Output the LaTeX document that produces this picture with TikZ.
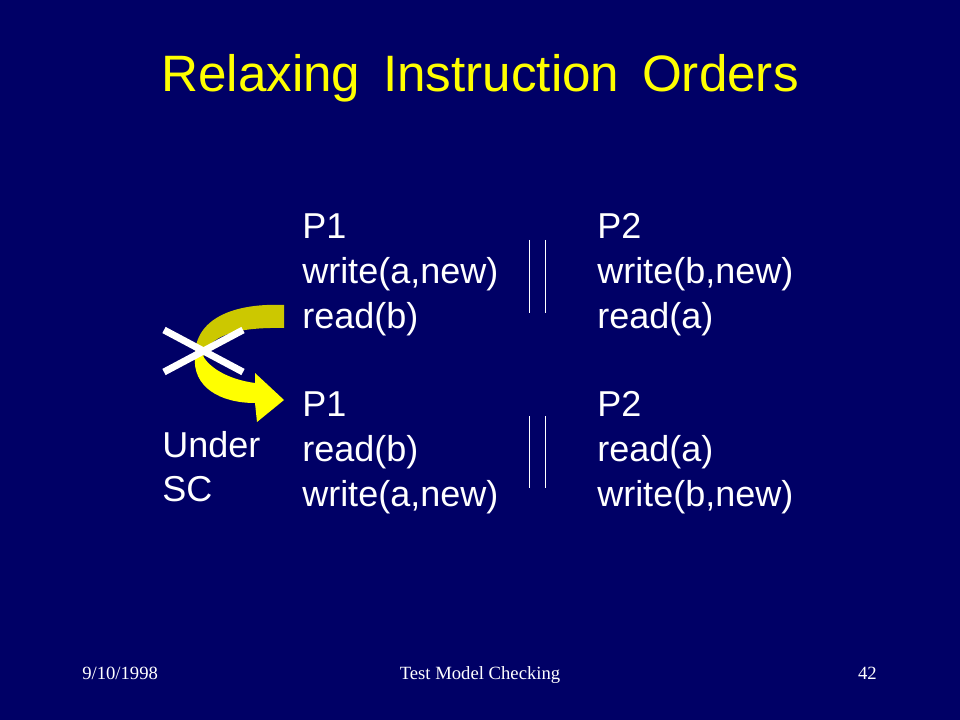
\documentclass[tikz,border=0pt]{standalone}
\usepackage{fontspec}
\setmainfont{Liberation Sans}
\newfontfamily\footfont{Liberation Serif}
\definecolor{slidebg}{RGB}{0,0,102}
\definecolor{olivearrow}{RGB}{204,200,0}
\definecolor{brightyellow}{RGB}{255,255,0}
\tikzset{
  bodytext/.style={text=white, inner sep=0pt, anchor=base west, font=\fontsize{27}{27}\selectfont},
  titletext/.style={text=brightyellow, inner sep=0pt, anchor=base, font=\fontsize{38.4}{40}\selectfont},
  foottext/.style={text=white, inner sep=0pt, font=\footfont\fontsize{14}{14}\selectfont},
  sepline/.style={draw=white, line width=1.1pt},
  crossline/.style={draw=white, line width=5.25pt},
}
\begin{document}
\begin{tikzpicture}[x=0.75pt,y=-0.75pt]
\fill[slidebg] (0,0) rectangle (960,720);
\useasboundingbox (0,0) rectangle (960,720);

% title
\node[titletext] (title) at (480,92) {Relaxing\, Instruction\, Orders};

% upper block
\node[bodytext] (p1a) at (302,239) {P1};
\node[bodytext] (w1a) at (302,284) {write(a,new)};
\node[bodytext] (r1a) at (302,329) {read(b)};
\node[bodytext] (p2a) at (597,239) {P2};
\node[bodytext] (w2a) at (597,284) {write(b,new)};
\node[bodytext] (r2a) at (597,329) {read(a)};

% lower block
\node[bodytext] (p1b) at (302,416) {P1};
\node[bodytext] (r1b) at (302,461) {read(b)};
\node[bodytext] (w1b) at (302,506) {write(a,new)};
\node[bodytext] (p2b) at (597,416) {P2};
\node[bodytext] (r2b) at (597,461) {read(a)};
\node[bodytext] (w2b) at (597,506) {write(b,new)};

\node[bodytext] (under) at (162,457) {Under};
\node[bodytext] (sc) at (162,501) {SC};

% parallel bars
\coordinate (bar1t) at (529.5,240); \coordinate (bar1b) at (529.5,313);
\coordinate (bar2t) at (545.5,240); \coordinate (bar2b) at (545.5,313);
\coordinate (bar3t) at (529.5,416); \coordinate (bar3b) at (529.5,488);
\coordinate (bar4t) at (545.5,416); \coordinate (bar4b) at (545.5,488);
\draw[sepline] (bar1t) -- (bar1b);
\draw[sepline] (bar2t) -- (bar2b);
\draw[sepline] (bar3t) -- (bar3b);
\draw[sepline] (bar4t) -- (bar4b);

% curved arrow: upper (back) part
\fill[olivearrow] (284,305) .. controls (238,303) and (198,316) .. (195,352)
  -- (203,358) .. controls (208,336) and (235,327) .. (284,328) -- cycle;
% lower (front) part with head
\fill[brightyellow] (195,356) .. controls (192,387) and (220,403) .. (255,403)
  -- (257,422) -- (284,400) -- (255,373) -- (255,383)
  .. controls (232,380) and (211,370) .. (203,356) -- cycle;

% cross
\coordinate (xa1) at (164,330); \coordinate (xa2) at (243,372);
\coordinate (xb1) at (164,372); \coordinate (xb2) at (243,330);
\draw[crossline] (xa1) -- (xa2);
\draw[crossline] (xb1) -- (xb2);

% footer
\node[foottext, anchor=base west] (date) at (82,679) {9/10/1998};
\node[foottext, anchor=base] (foottitle) at (480,679) {Test Model Checking};
\node[foottext, anchor=base east] (page) at (877,679) {42};
\end{tikzpicture}
\end{document}
